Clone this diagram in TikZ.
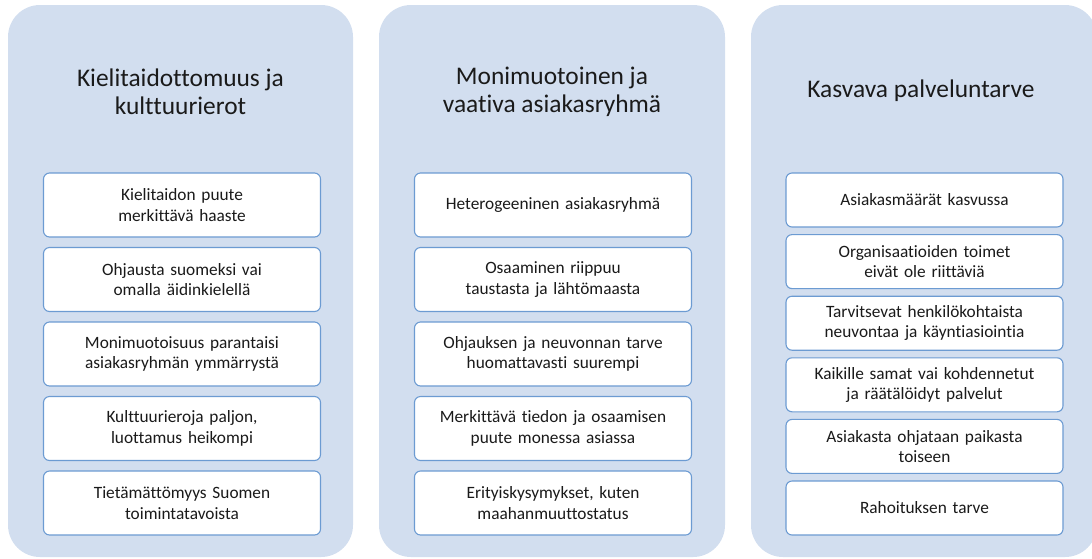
\documentclass[tikz,border=0pt]{standalone}
\usepackage{fontspec}
\setmainfont{Carlito}[Ligatures=NoCommon]
\usepackage{tikz}
\usetikzlibrary{positioning,calc}

\definecolor{panelblue}{HTML}{D2DEEF}
\definecolor{itemline}{HTML}{6C9BD2}
\definecolor{inktext}{HTML}{1A1A1A}

\tikzset{
  panel/.style={fill=panelblue, draw=none, rounded corners=32pt},
  heading/.style={align=center, text=inktext, font=\fontsize{25.4}{28.5}\selectfont},
  item/.style={draw=itemline, line width=1.1pt, fill=white, rounded corners=6pt,
    text width=277pt, align=center, text=inktext, inner sep=0pt,
    font=\fontsize{17.3}{20.5}\selectfont},
  tall/.style={item, minimum height=64pt},
  short/.style={item, minimum height=54pt}
}

\begin{document}
\begin{tikzpicture}[x=1pt,y=-1pt]
    \clip (0,0) rectangle (1092,558);

    % the three background panels
    \draw[panel] (8,5) rectangle (353,557);
    \draw[panel] (379,5) rectangle (725,557);
    \draw[panel] (751,5) rectangle (1097,557);

    % panel headings
    \node[heading] (h1) at (180.5,92) {Kielitaidottomuus ja\\kulttuurierot};
    \node[heading] (h2) at (552,92) {Monimuotoinen ja\\vaativa asiakasryhmä};
    \node[heading] (h3) at (921,91) {Kasvava palveluntarve};

    % first panel
    \node[tall] (a1) at (182,205) {Kielitaidon puute\\merkittävä haaste};
    \node[tall] (a2) at (182,279.5) {Ohjausta suomeksi vai\\omalla äidinkielellä};
    \node[tall] (a3) at (182,354) {Monimuotoisuus parantaisi\\asiakasryhmän ymmärrystä};
    \node[tall] (a4) at (182,428.5) {Kulttuurieroja paljon,\\luottamus heikompi};
    \node[tall] (a5) at (182,503) {Tietämättömyys Suomen\\toimintatavoista};

    % second panel
    \node[tall] (b1) at (553,205) {Heterogeeninen asiakasryhmä};
    \node[tall] (b2) at (553,279.5) {Osaaminen riippuu\\taustasta ja lähtömaasta};
    \node[tall] (b3) at (553,354) {Ohjauksen ja neuvonnan tarve\\huomattavasti suurempi};
    \node[tall] (b4) at (553,428.5) {Merkittävä tiedon ja osaamisen\\puute monessa asiassa};
    \node[tall] (b5) at (553,503) {Erityiskysymykset, kuten\\maahanmuuttostatus};

    % third panel
    \node[short] (c1) at (924.5,200) {Asiakasmäärät kasvussa};
    \node[short] (c2) at (924.5,261.6) {Organisaatioiden toimet\\eivät ole riittäviä};
    \node[short] (c3) at (924.5,323.2) {Tarvitsevat henkilökohtaista\\neuvontaa ja käyntiasiointia};
    \node[short] (c4) at (924.5,384.8) {Kaikille samat vai kohdennetut\\ja räätälöidyt palvelut};
    \node[short] (c5) at (924.5,446.4) {Asiakasta ohjataan paikasta\\toiseen};
    \node[short] (c6) at (924.5,508) {Rahoituksen tarve};
\end{tikzpicture}
\end{document}
